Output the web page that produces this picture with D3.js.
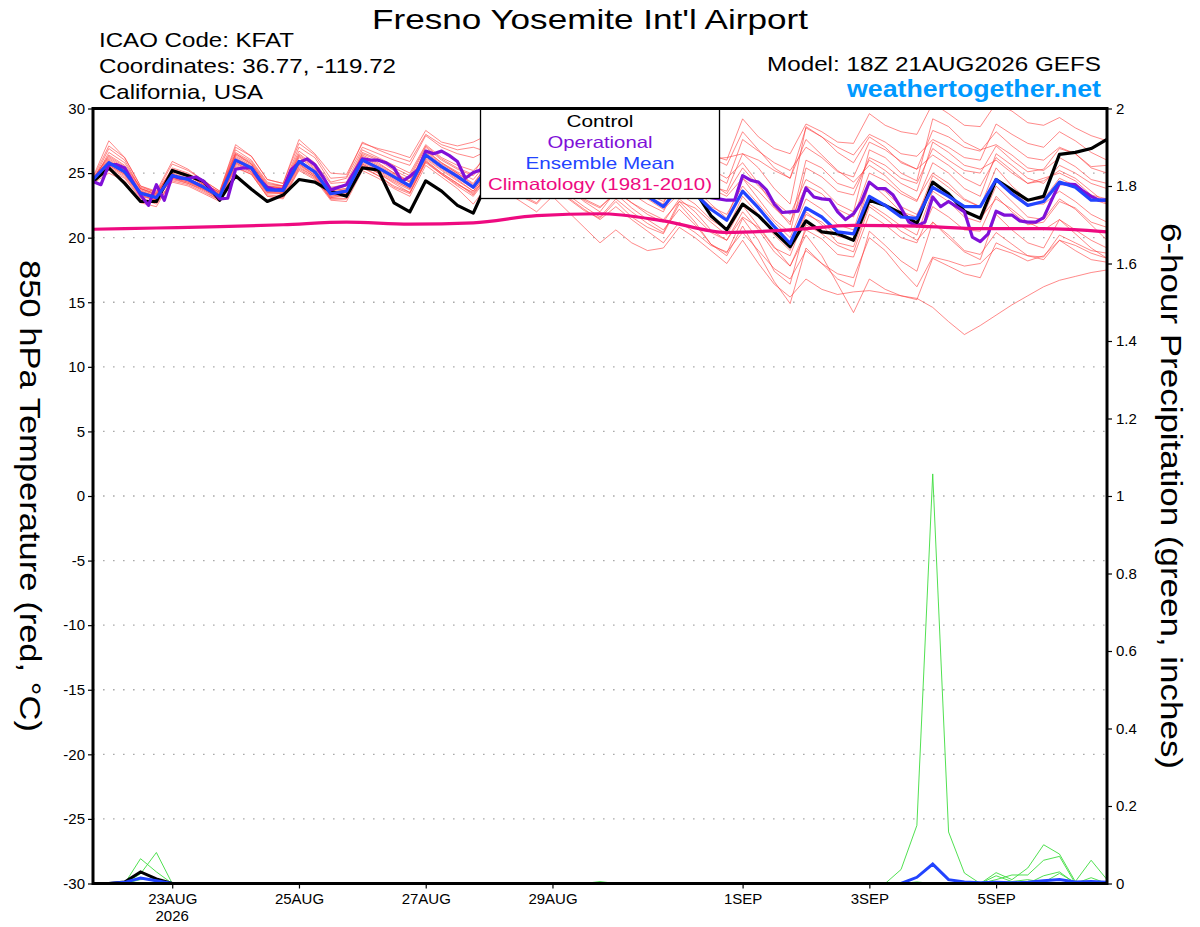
<!DOCTYPE html>
<html>
<head>
<meta charset="utf-8">
<script src="https://cdn.jsdelivr.net/npm/d3@7"></script>
<style>
  body { margin: 0; background: #fff; }
  svg { display: block; font-family: "Liberation Sans", Arial, Helvetica, sans-serif; }
</style>
</head>
<body>
<svg id="chart" width="1200" height="927"></svg>
<script>
// ── data ─────────────────────────────────────────────
// 6-hourly steps from 18Z 21AUG2026 (65 points), operational run 3-hourly (129 points)
const controlTemp = [24.35,
  25.4,24.2,22.8,22.8, 25.2,24.8,24.35,22.9, 24.8,23.75,22.8,23.3, 24.5,24.3,23.6,23.2,
  25.4,25.25,22.7,22.0, 24.4,23.6,22.5,21.9, 24.6,24.0,23.4,23.3, 24.8,24.2,23.6,23.4,
  24.5,23.9,23.5,23.2, 24.0,23.6,21.7,20.6, 22.6,21.7,20.45,19.3, 21.3,20.45,20.3,19.8,
  22.9,22.5,21.9,21.1, 24.3,23.4,22.05,21.5, 24.5,23.7,22.9,23.2, 26.45,26.6,26.9,27.6];

const meanTemp = [24.5,
  25.8,25.1,23.45,23.1, 24.8,24.5,23.9,23.2, 26.0,25.4,23.7,23.65, 25.9,25.1,23.4,23.6,
  26.0,25.4,24.7,24.0, 26.4,25.5,24.75,23.9, 25.5,25.0,24.4,23.9, 25.2,24.6,23.9,23.5,
  24.6,23.7,23.2,22.4, 23.9,23.4,22.2,21.35, 23.6,22.3,20.85,19.55, 22.3,21.6,20.45,20.3,
  23.2,22.5,21.6,21.5, 23.9,23.2,22.4,22.4, 24.5,23.4,22.5,22.8, 24.3,23.9,22.9,22.9];

const opTemp = [
  24.35,24.1,25.65,25.65,25.4,24.35,23.3,22.5,24.1,22.9,
  24.8,24.6,24.6,24.7,24.35,23.7,23.0,23.05,25.3,25.4,
  25.4,24.5,23.9,23.7,23.75,25.25,25.8,26.1,25.65,24.75,
  23.7,23.9,24.1,25.1,26.1,26.0,26.0,25.8,25.4,24.35,
  24.75,25.25,26.7,26.5,26.7,26.35,25.9,24.6,25.05,25.25,
  25.6,25.2,24.8,24.4,24.0,24.3,24.1,24.6,25.3,25.5,
  25.1,24.6,24.0,23.6,23.8,24.4,25.0,25.2,24.8,24.3,
  23.7,23.5,23.4,24.0,24.6,24.4,23.9,23.4,23.1,
  23.0,22.9,22.9,24.8,24.45,24.3,23.7,22.6,21.95,22.0,
  22.05,23.85,23.15,23.0,22.95,22.0,21.4,21.85,22.8,24.3,
  23.8,23.8,23.3,22.3,21.2,20.9,21.2,23.15,22.4,22.8,
  22.4,22.0,20.05,19.7,20.3,22.05,21.75,21.75,21.3,21.2,
  21.2,21.55,22.9,24.2,24.15,24.1,23.6,23.2,22.9,22.9];

// daily climatology, 18Z each day
const climTemp = [20.65,20.75,20.85,21.0,21.2,21.05,21.15,21.7,21.85,21.3,20.4,20.6,20.95,20.9,20.7,20.7,20.45];

const memberTemps = [
  [24.7, 27.5,26.2,24.0,23.6, 25.9,25.3,24.4,23.6, 27.2,26.3,24.5,24.2, 27.6,26.5,25.0,24.9, 27.3,26.9,26.6,26.2, 28.3,27.4,27.1,27.4, 28.0,27.2,26.4,25.8, 27.0,26.3,25.6,25.1, 26.6,25.8,25.0,24.6, 28.4,27.6,26.4,26.0, 29.2,27.8,26.9,26.5, 28.8,28.2,27.4,27.3, 29.6,28.7,28.2,28.0, 30.4,29.6,28.7,28.6, 30.4,29.8,28.9,28.7, 29.3,28.5,27.9,27.5],
  [24.4, 26.9,26.0,23.8,23.3, 25.4,25.0,24.2,23.5, 26.8,26.0,24.3,24.0, 27.0,26.2,24.3,24.6, 27.0,26.5,26.0,25.6, 27.9,27.0,26.5,26.2, 26.8,26.0,25.5,25.0, 26.2,25.5,24.8,24.2, 25.6,24.9,24.2,23.6, 27.0,26.4,26.1,26.2, 26.5,26.0,25.2,24.6, 28.5,27.8,27.0,26.4, 28.0,27.4,26.5,26.3, 27.6,27.0,26.2,26.0, 28.8,28.0,27.3,27.0, 28.2,27.5,26.6,26.0],
  [24.3, 25.2,24.6,23.0,22.6, 24.3,24.0,23.4,22.8, 25.4,24.9,23.2,23.0, 25.2,24.5,22.9,22.8, 25.2,24.6,23.8,23.2, 25.6,24.7,23.8,22.6, 24.2,23.6,22.8,22.0, 23.2,22.0,20.8,19.6, 20.6,19.6,19.0,19.2, 20.8,20.0,19.0,18.0, 19.8,18.0,16.4,15.4, 16.8,16.0,15.6,15.8, 15.9,15.7,15.5,15.3, 14.6,13.5,12.5,13.2, 14.0,14.8,15.5,16.2, 16.7,17.0,17.3,17.5],
  [24.2, 25.0,24.4,22.7,22.4, 24.5,24.2,23.6,22.9, 25.6,25.0,23.3,23.2, 25.4,24.7,23.0,23.0, 25.5,24.8,23.9,23.4, 25.9,24.9,24.0,23.2, 24.8,24.1,23.2,22.6, 24.0,23.0,22.1,21.5, 22.8,21.6,20.8,20.3, 22.6,21.2,19.5,18.6, 20.9,18.8,16.6,14.9, 19.2,18.0,16.8,16.2, 20.5,19.4,18.2,17.4, 21.2,20.0,18.9,18.3, 21.8,20.6,19.6,19.2, 21.4,20.3,19.2,18.4],
  [24.5, 25.5,24.8,23.2,22.9, 24.6,24.3,23.7,23.0, 25.8,25.1,23.5,23.4, 25.6,24.8,23.1,23.2, 25.7,25.0,24.2,23.5, 26.0,25.0,24.2,23.3, 25.0,24.2,23.3,22.7, 24.2,23.3,22.4,21.6, 23.0,22.0,21.1,20.4, 22.8,21.6,20.4,19.8, 22.0,20.6,18.9,17.8, 20.2,18.6,16.4,14.2, 16.8,16.0,15.5,15.2, 18.4,17.8,17.2,16.9, 19.6,19.0,18.6,18.5, 20.2,19.6,19.0,18.8],
  [24.6, 26.2,25.4,23.7,23.3, 25.1,24.8,24.1,23.4, 26.4,25.7,24.0,23.9, 26.3,25.4,23.7,23.8, 26.4,25.8,25.0,24.3, 26.8,25.8,25.0,24.2, 25.8,25.3,24.8,24.3, 25.6,25.0,24.4,24.0, 25.4,24.6,24.0,23.4, 25.1,24.6,23.8,23.2, 24.6,23.0,21.4,20.4, 25.4,24.7,23.6,23.3, 26.2,25.6,24.6,24.2, 26.9,26.0,25.2,25.0, 27.1,26.0,25.1,25.3, 26.9,26.5,25.4,25.0],
  [24.3, 25.6,24.9,23.3,22.9, 24.6,24.2,23.7,23.0, 25.7,25.1,23.4,23.4, 25.5,24.7,23.1,23.3, 25.6,25.0,24.3,23.7, 25.9,25.0,24.2,23.4, 25.1,24.6,23.9,23.2, 24.4,23.8,22.9,22.3, 23.6,22.7,22.0,21.4, 22.8,22.3,21.2,20.2, 22.5,20.9,19.3,17.8, 20.6,19.9,18.7,18.5, 21.8,21.0,20.0,19.6, 22.4,21.6,20.6,20.5, 23.2,22.0,21.0,21.2, 22.8,22.3,21.2,20.8],
  [24.5, 26.4,25.6,23.9,23.5, 25.3,24.9,24.2,23.5, 26.6,25.9,24.2,24.0, 26.7,25.8,24.2,24.3, 26.8,26.2,25.6,25.0, 27.2,26.2,25.6,25.2, 26.4,25.8,25.3,24.8, 25.9,25.3,24.7,24.3, 25.7,24.9,24.3,23.8, 26.5,25.8,24.9,24.2, 27.6,26.7,25.8,25.2, 27.0,26.2,25.1,24.7, 27.4,26.8,25.9,25.3, 28.3,27.8,27.0,26.7, 28.2,27.1,26.2,26.0, 27.0,26.5,25.5,25.6],
  [24.4, 25.9,25.2,23.6,23.2, 24.9,24.6,24.0,23.3, 26.1,25.5,23.8,23.8, 26.0,25.2,23.5,23.7, 26.1,25.5,24.8,24.1, 26.5,25.6,24.9,24.0, 25.6,25.1,24.5,24.0, 25.0,24.3,23.6,23.1, 24.2,23.4,22.6,22.0, 24.4,23.5,22.4,21.8, 24.0,22.6,21.2,20.0, 23.0,22.2,21.0,20.6, 24.3,23.2,22.0,21.6, 24.8,23.9,22.9,22.4, 25.4,24.0,22.9,23.0, 24.6,24.0,23.0,22.6],
  [24.6, 26.0,25.2,23.4,23.0, 24.7,24.4,23.8,23.1, 25.9,25.3,23.6,23.5, 25.7,24.9,23.2,23.4, 25.8,25.2,24.5,23.8, 26.2,25.3,24.5,23.6, 25.3,24.8,24.1,23.5, 24.6,23.9,23.0,22.4, 23.4,22.3,21.4,20.6, 22.2,21.0,19.5,18.8, 21.5,19.8,17.4,16.4, 21.0,20.3,19.4,18.9, 22.4,21.5,20.5,19.8, 21.2,20.2,19.0,18.7, 20.4,19.5,18.6,18.3, 19.8,19.0,18.3,18.1],
  [24.3, 26.6,25.8,23.8,23.4, 25.2,24.8,24.1,23.3, 26.5,25.7,24.0,23.8, 26.4,25.5,23.7,24.0, 26.5,26.0,25.2,24.6, 27.0,26.0,25.3,24.8, 26.2,25.5,25.0,24.5, 25.4,24.8,24.0,23.4, 24.8,24.0,23.2,22.6, 25.8,25.2,24.2,23.4, 25.4,24.0,22.8,21.8, 24.5,23.8,22.6,22.0, 26.8,26.2,25.0,24.4, 29.2,28.6,27.4,26.8, 27.2,26.4,25.4,25.2, 26.2,25.5,24.5,24.2],
  [24.5, 25.7,25.0,23.4,23.0, 24.8,24.4,23.8,23.1, 25.9,25.3,23.6,23.6, 25.8,25.0,23.3,23.5, 25.9,25.3,24.6,23.9, 26.3,25.4,24.6,23.8, 25.4,25.0,24.6,24.0, 25.4,24.8,24.1,23.6, 24.6,23.6,23.0,22.2, 23.4,22.6,21.4,20.6, 23.2,21.8,20.2,19.0, 22.0,21.0,19.6,19.3, 22.6,21.8,20.9,20.2, 23.6,22.8,21.6,21.2, 24.0,22.8,21.6,21.4, 23.0,22.2,21.0,19.8],
  [24.6, 27.1,26.2,24.0,23.5, 25.7,25.2,24.4,23.6, 27.0,26.3,24.5,24.2, 27.3,26.4,24.6,24.7, 27.4,26.8,26.3,25.9, 28.0,27.2,26.8,27.0, 26.6,25.8,25.2,24.6, 25.9,25.0,24.2,23.6, 25.2,24.3,23.4,22.8, 24.3,23.8,22.6,21.5, 24.6,23.6,22.3,21.2, 24.0,23.4,22.2,21.6, 25.0,24.4,23.4,22.8, 25.8,25.0,23.8,23.2, 26.5,25.6,24.6,24.2, 25.6,25.0,24.2,23.8],
  [24.4, 25.9,25.1,23.5,23.2, 24.9,24.5,23.9,23.2, 26.2,25.5,23.9,23.8, 26.0,25.1,23.5,23.7, 26.2,25.6,24.9,24.3, 26.6,25.7,25.0,24.1, 25.9,25.4,24.9,24.4, 25.8,25.2,24.6,24.2, 25.0,24.4,23.6,23.0, 26.0,25.4,24.0,23.6, 26.5,25.4,23.8,22.6, 28.6,27.8,26.6,25.8, 27.8,27.0,25.8,25.3, 26.4,25.6,24.6,24.0, 26.2,25.2,24.2,24.4, 25.2,24.6,23.6,22.6],
  [24.3, 25.4,24.7,23.1,22.7, 24.4,24.1,23.5,22.9, 25.5,24.9,23.2,23.1, 25.3,24.6,23.0,23.0, 25.4,24.8,24.0,23.5, 25.8,24.9,24.1,23.5, 24.9,24.3,23.6,23.0, 24.0,23.1,22.2,21.4, 22.4,21.4,20.5,19.6, 21.2,20.4,19.4,18.9, 20.4,19.0,17.6,16.8, 19.0,18.0,17.2,16.9, 20.0,19.0,17.5,16.2, 18.5,18.2,17.8,18.0, 19.2,18.8,18.2,18.6, 19.8,19.4,18.8,18.4],
  [24.5, 26.1,25.3,23.6,23.2, 25.0,24.6,24.0,23.4, 26.3,25.6,23.9,23.9, 26.2,25.3,23.6,23.8, 26.3,25.7,25.0,24.4, 26.7,25.8,25.1,24.5, 26.0,25.5,25.0,24.6, 26.2,25.6,24.9,24.5, 26.0,25.3,24.7,24.3, 27.2,26.4,25.3,24.6, 25.8,24.2,22.4,21.0, 26.0,25.4,24.2,23.8, 26.0,25.2,24.2,23.6, 27.4,26.6,25.6,25.3, 26.0,25.0,24.2,24.6, 25.0,24.4,23.3,23.0],
  [24.4, 25.6,24.9,23.3,22.9, 24.7,24.3,23.8,23.1, 25.8,25.2,23.5,23.5, 25.7,24.8,23.2,23.4, 25.7,25.1,24.4,23.8, 26.1,25.2,24.4,23.6, 25.2,24.6,23.9,23.3, 24.6,23.8,22.8,22.0, 23.6,22.7,21.8,21.2, 23.0,22.0,20.6,19.8, 21.6,20.8,19.2,18.6, 21.8,21.2,20.1,19.9, 24.2,23.6,22.4,21.8, 24.2,23.4,22.0,21.5, 23.0,22.2,21.2,20.6, 21.4,20.6,19.8,19.2],
  [24.6, 26.3,25.5,23.8,23.4, 25.2,24.8,24.1,23.5, 26.5,25.8,24.1,24.0, 26.5,25.6,23.9,24.1, 26.6,26.1,25.4,24.8, 27.1,26.1,25.4,24.9, 27.0,26.4,25.8,25.3, 26.8,26.1,25.4,24.9, 26.4,25.6,25.1,24.7, 27.6,27.0,26.2,25.6, 28.2,26.8,25.4,24.6, 27.6,26.4,25.2,24.3, 25.6,24.8,23.6,22.9, 25.0,24.2,23.0,22.4, 24.6,23.6,22.6,22.6, 23.6,22.8,21.8,21.2]
];

// 6-hour precipitation (inches), step index -> amount; unlisted steps are 0
const controlPrecip = {2: 0.004, 3: 0.03, 4: 0.012};
const meanPrecip = {2: 0.003, 3: 0.014, 4: 0.007, 52: 0.016, 53: 0.05, 54: 0.01, 55: 0.004, 56: 0.002,
  57: 0.003, 58: 0.002, 59: 0.003, 60: 0.007, 61: 0.01, 62: 0.004, 63: 0.005, 64: 0.003};
const memberPrecip = [
  {3: 0.015, 4: 0.005, 51: 0.036, 52: 0.15, 53: 1.057, 54: 0.133, 55: 0.027},
  {3: 0.064, 4: 0.03},
  {3: 0.025, 4: 0.08},
  {3: 0.01, 4: 0.012, 32: 0.005},
  {57: 0.028, 58: 0.01, 59: 0.04, 60: 0.1, 61: 0.076, 62: 0.005, 63: 0.06, 64: 0.01},
  {57: 0.01, 58: 0.022, 59: 0.022, 60: 0.06, 61: 0.07, 63: 0.015},
  {57: 0.02, 58: 0.005, 59: 0.01, 60: 0.003, 61: 0.026, 62: 0.002},
  {52: 0.004, 57: 0.005, 60: 0.02, 61: 0.03}
];

const tempTicks = [-30,-25,-20,-15,-10,-5,0,5,10,15,20,25,30];
const precipTicks = [0,0.2,0.4,0.6,0.8,1,1.2,1.4,1.6,1.8,2];
const dateTicks = ['2026-08-23','2026-08-25','2026-08-27','2026-08-29','2026-09-01','2026-09-03','2026-09-05'];
const dateLabels = ['23AUG','25AUG','27AUG','29AUG','1SEP','3SEP','5SEP'];

const legendItems = [
  {label: 'Control', color: '#000000', w: 67},
  {label: 'Operational', color: '#8010d8', w: 105},
  {label: 'Ensemble Mean', color: '#2244ff', w: 149},
  {label: 'Climatology (1981-2010)', color: '#ee0a80', w: 224}
];

// ── layout ───────────────────────────────────────────
const L = 93, R = 1107, T = 108.5, B = 883.5;
const HOUR = 3600 * 1000;
const t0 = Date.UTC(2026, 7, 21, 18);
const t1 = Date.UTC(2026, 8, 6, 18);

const x  = d3.scaleUtc().domain([t0, t1]).range([L, R]);
const yT = d3.scaleLinear().domain([-30, 30]).range([B, T]);
const yP = d3.scaleLinear().domain([0, 2]).range([B, T]);

const stepped = (vals, hours) => vals.map((v, i) => ({t: t0 + i * hours * HOUR, v}));
const fromSparse = obj => d3.range(65).map(i => ({t: t0 + i * 6 * HOUR, v: obj[i] || 0}));

// the original uses a wide Helvetica: stretch text to its measured width
const stretch = (sel, w) => sel.attr('textLength', w).attr('lengthAdjust', 'spacingAndGlyphs');

const svg = d3.select('#chart');

svg.append('defs').append('clipPath').attr('id', 'plot-clip')
  .append('rect').attr('x', L).attr('y', T).attr('width', R - L).attr('height', B - T);

// grid: dotted lines on temperature ticks
svg.append('g').selectAll('line')
  .data(tempTicks.filter(d => d > -30 && d < 30))
  .join('line')
  .attr('x1', L).attr('x2', R)
  .attr('y1', d => yT(d)).attr('y2', d => yT(d))
  .attr('stroke', '#aaa').attr('stroke-width', 1.4)
  .attr('stroke-dasharray', '1.6,8.4');

const plot = svg.append('g').attr('clip-path', 'url(#plot-clip)');

const lineT = d3.line().x(d => x(d.t)).y(d => yT(d.v));
const lineP = d3.line().x(d => x(d.t)).y(d => yP(d.v));

// ensemble members (red)
plot.append('g').selectAll('path')
  .data(memberTemps.map(m => stepped(m, 6)))
  .join('path')
  .attr('d', lineT)
  .attr('fill', 'none').attr('stroke', '#ff3b3b')
  .attr('stroke-opacity', 0.75).attr('stroke-width', 0.8);

// precip members (green)
plot.append('g').selectAll('path')
  .data(memberPrecip.map(fromSparse))
  .join('path')
  .attr('d', lineP)
  .attr('fill', 'none').attr('stroke', '#3ddc3d').attr('stroke-width', 0.9);

plot.append('path').datum(fromSparse(controlPrecip))
  .attr('d', lineP).attr('fill', 'none').attr('stroke', '#000').attr('stroke-width', 3);
plot.append('path').datum(fromSparse(meanPrecip))
  .attr('d', lineP).attr('fill', 'none').attr('stroke', '#2244ff').attr('stroke-width', 3);

// main temperature lines
plot.append('path').datum(stepped(controlTemp, 6))
  .attr('d', lineT).attr('fill', 'none').attr('stroke', '#000')
  .attr('stroke-width', 3.2).attr('stroke-linejoin', 'round');
plot.append('path').datum(stepped(opTemp, 3))
  .attr('d', lineT).attr('fill', 'none').attr('stroke', '#8010d8')
  .attr('stroke-width', 3.2).attr('stroke-linejoin', 'round');
plot.append('path').datum(stepped(meanTemp, 6))
  .attr('d', lineT).attr('fill', 'none').attr('stroke', '#2244ff')
  .attr('stroke-width', 3.2).attr('stroke-linejoin', 'round');
plot.append('path').datum(stepped(climTemp, 24))
  .attr('d', lineT.curve(d3.curveMonotoneX)).attr('fill', 'none').attr('stroke', '#ee0a80')
  .attr('stroke-width', 3.2);

// legend box
const leg = svg.append('g');
leg.append('rect').attr('x', 480.5).attr('y', T).attr('width', 239).attr('height', 90)
  .attr('fill', '#fff').attr('stroke', '#000').attr('stroke-width', 1.3);
leg.selectAll('text').data(legendItems).join('text')
  .attr('x', 600).attr('y', (d, i) => 126.8 + i * 21.1)
  .attr('text-anchor', 'middle').attr('font-size', 16.5)
  .attr('fill', d => d.color).text(d => d.label)
  .attr('textLength', d => d.w).attr('lengthAdjust', 'spacingAndGlyphs');

// axes
const styleAxis = g => {
  g.select('.domain').remove();
  g.selectAll('.tick line').attr('stroke', '#000').attr('stroke-width', 1.2);
  g.selectAll('.tick text').attr('fill', '#000').attr('font-size', 15)
    .attr('font-family', '"Liberation Sans", Arial, sans-serif');
};

svg.append('g').attr('transform', `translate(${L},0)`)
  .call(d3.axisLeft(yT).tickValues(tempTicks).tickSize(5).tickPadding(3).tickFormat(d => String(d)))
  .call(styleAxis);

svg.append('g').attr('transform', `translate(${R},0)`)
  .call(d3.axisRight(yP).tickValues(precipTicks).tickSize(5).tickPadding(4).tickFormat(d3.format('~g')))
  .call(styleAxis);

const xAxis = svg.append('g').attr('transform', `translate(0,${B})`)
  .call(d3.axisBottom(x).tickValues(dateTicks.map(d => new Date(d + 'T00:00:00Z')))
    .tickSize(5).tickPadding(5).tickFormat((d, i) => dateLabels[i]))
  .call(styleAxis);
xAxis.append('text').attr('x', x(new Date(dateTicks[0] + 'T00:00:00Z'))).attr('y', 37)
  .attr('text-anchor', 'middle').attr('font-size', 15).attr('fill', '#000').text('2026');

// frame
svg.append('rect').attr('x', L).attr('y', T).attr('width', R - L).attr('height', B - T)
  .attr('fill', 'none').attr('stroke', '#000').attr('stroke-width', 3);

// titles
svg.append('text').attr('x', 590).attr('y', 28.5).attr('text-anchor', 'middle')
  .attr('font-size', 28.5).text("Fresno Yosemite Int'l Airport").call(stretch, 436);

const infoLeft = ['ICAO Code: KFAT', 'Coordinates: 36.77, -119.72', 'California, USA'];
const infoWidths = [195, 297, 164];
svg.append('g').selectAll('text').data(infoLeft).join('text')
  .attr('x', 99).attr('y', (d, i) => 46.7 + i * 26.2)
  .attr('font-size', 21).text(d => d)
  .attr('textLength', (d, i) => infoWidths[i]).attr('lengthAdjust', 'spacingAndGlyphs');

svg.append('text').attr('x', 1101).attr('y', 70.7).attr('text-anchor', 'end')
  .attr('font-size', 21).text('Model: 18Z 21AUG2026 GEFS').call(stretch, 334);
svg.append('text').attr('x', 1101).attr('y', 96.7).attr('text-anchor', 'end')
  .attr('font-size', 24).attr('font-weight', 'bold').attr('fill', '#0099ff')
  .text('weathertogether.net').call(stretch, 254);

// axis titles, both read top to bottom
svg.append('text').attr('transform', `translate(20,${(T + B) / 2}) rotate(90)`)
  .attr('text-anchor', 'middle').attr('font-size', 30)
  .text('850 hPa Temperature (red, °C)').call(stretch, 472);
svg.append('text').attr('transform', `translate(1161,${(T + B) / 2}) rotate(90)`)
  .attr('text-anchor', 'middle').attr('font-size', 30)
  .text('6-hour Precipitation (green, inches)').call(stretch, 546);
</script>
</body>
</html>
